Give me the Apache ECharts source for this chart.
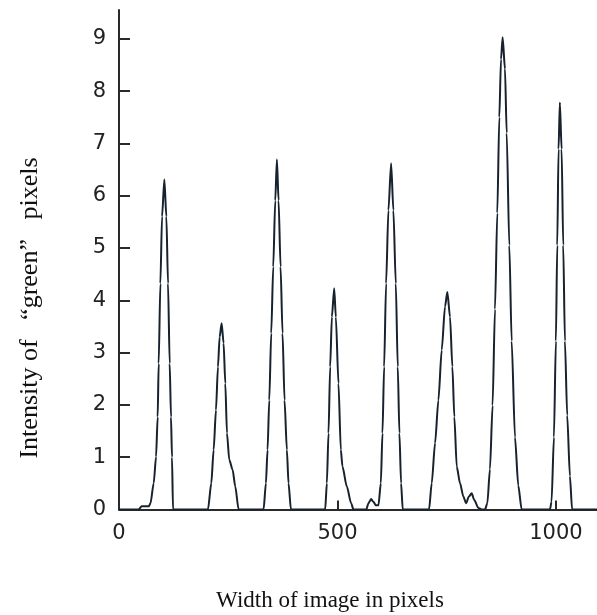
<!DOCTYPE html>
<html>
<head>
<meta charset="utf-8">
<script src="https://cdn.jsdelivr.net/npm/echarts@6/dist/echarts.min.js"></script>
<style>html,body{margin:0;padding:0;background:#fff;}#c{width:597px;height:615px;}</style>
</head>
<body>
<div id="c"></div>
<script>
// Pixel positions along the image width
const xValues = [
  0, 45, 52, 68, 72, 79.4, 84.8, 88.5, 90.8, 94.7, 98.5, 103.8, 108.4, 112.2, 116, 119, 121.3, 123.6,
  203.6, 211.2, 216.6, 221.9, 226.5, 230.3, 234.9, 239.4, 243.3, 247.1, 252.4, 260, 266.1, 273.7,
  330.9, 336.2, 340, 343.9, 348.4, 353, 357.6, 361.4, 365.2, 369.8, 374.3, 378.9, 384.2, 388, 393.5,
  471.9, 475.7, 479.5, 483.3, 487.2, 492.5, 496.3, 502.3, 507.7, 511.5, 521.4, 531.3, 536.6,
  566, 571, 577, 582, 588, 593.8,
  599.2, 603, 606.8, 611.3, 616.6, 622.8, 628, 633.5, 638, 641.8, 645.6, 649.4,
  709.6, 715.7, 723.4, 731, 738.6, 746.2, 751.5, 757.6, 763, 767.5, 773, 780.5, 788.1, 794.2,
  801, 807.2, 813.2, 822.4, 830, 837.7,
  843, 849, 855, 860.5, 865.8, 870.4, 874.3, 878, 883.4, 887.3, 893.3, 898.7, 906.3, 913.8, 921.5,
  986.3, 990, 995.4, 999.9, 1003, 1006, 1009, 1013, 1016.7, 1020.6, 1025.8, 1032, 1037, 1094
];
// Intensity of "green" pixels at each position
const intensity = [
  0, 0, 0.06, 0.06, 0.12, 0.5, 1.01, 1.77, 2.79, 4.32, 5.6, 6.31, 5.6, 4.32, 2.79, 1.77, 1.0, 0,
  0, 0.5, 1.14, 1.9, 2.73, 3.3, 3.56, 3.18, 2.41, 1.46, 0.95, 0.76, 0.44, 0,
  0, 0.5, 1.14, 2.09, 3.37, 4.64, 5.91, 6.69, 5.91, 4.64, 3.37, 2.09, 1.14, 0.5, 0,
  0, 0.5, 1.46, 2.73, 3.68, 4.23, 3.68, 2.41, 1.14, 0.82, 0.44, 0.12, 0,
  0, 0.12, 0.2, 0.15, 0.08, 0.08,
  0.5, 1.46, 2.73, 4.32, 5.72, 6.62, 5.72, 4.32, 2.73, 1.46, 0.5, 0,
  0, 0.5, 1.27, 2.09, 3.05, 3.88, 4.16, 3.68, 2.73, 1.77, 0.82, 0.5, 0.25, 0.12,
  0.25, 0.31, 0.18, 0.03, 0, 0,
  0.12, 0.77, 1.99, 3.83, 5.67, 7.5, 8.61, 9.03, 8.42, 7.2, 5.05, 3.22, 1.38, 0.46, 0,
  0, 0.15, 1.38, 3.22, 5.05, 6.89, 7.78, 6.89, 5.05, 3.22, 1.8, 0.64, 0, 0
];
const xTicks = [0, 500, 1000];
const yTicks = [0, 1, 2, 3, 4, 5, 6, 7, 8, 9];
const xTitle = 'Width of image in pixels';
const yTitle = 'Intensity of   \u201Cgreen\u201D   pixels';

const chart = echarts.init(document.getElementById('c'), null, {renderer: 'canvas'});
const axisColor = '#2a2a2a';
chart.setOption({
  animation: false,
  backgroundColor: '#ffffff',
  grid: {left: 119, right: 0, top: 10, bottom: 105.5, containLabel: false},
  xAxis: {
    type: 'value', min: 0, max: 1094,
    axisLine: {show: true, onZero: false, lineStyle: {color: axisColor, width: 2}},
    axisTick: {show: true, inside: true, length: 9, customValues: xTicks, lineStyle: {color: axisColor, width: 2}},
    axisLabel: {customValues: xTicks, margin: 14, color: '#222', fontFamily: 'DejaVu Sans', fontSize: 21,
      formatter: v => String(v)},
    splitLine: {show: false}
  },
  yAxis: {
    type: 'value', min: 0, max: 9.55,
    axisLine: {show: true, lineStyle: {color: axisColor, width: 2}},
    axisTick: {show: true, inside: true, length: 11, customValues: yTicks, lineStyle: {color: axisColor, width: 2}},
    axisLabel: {customValues: yTicks, margin: 13, color: '#222', fontFamily: 'DejaVu Sans', fontSize: 21,
      formatter: v => String(v)},
    splitLine: {show: false}
  },
  series: [{
    type: 'line',
    data: xValues.map((x, i) => [x, intensity[i]]),
    showSymbol: false,
    smooth: 0.25,
    smoothMonotone: 'x',
    lineStyle: {color: '#17222f', width: 2},
    clip: true
  }],
  graphic: [
    {type: 'text', x: 330, y: 601, style: {text: xTitle, font: '23px "Liberation Serif"', fill: '#111', align: 'center', verticalAlign: 'middle'}},
    {type: 'text', x: 30, y: 308, rotation: Math.PI / 2, style: {text: yTitle, font: '26px "Liberation Serif"', fill: '#111', align: 'center', verticalAlign: 'middle'}}
  ]
});
</script>
</body>
</html>
